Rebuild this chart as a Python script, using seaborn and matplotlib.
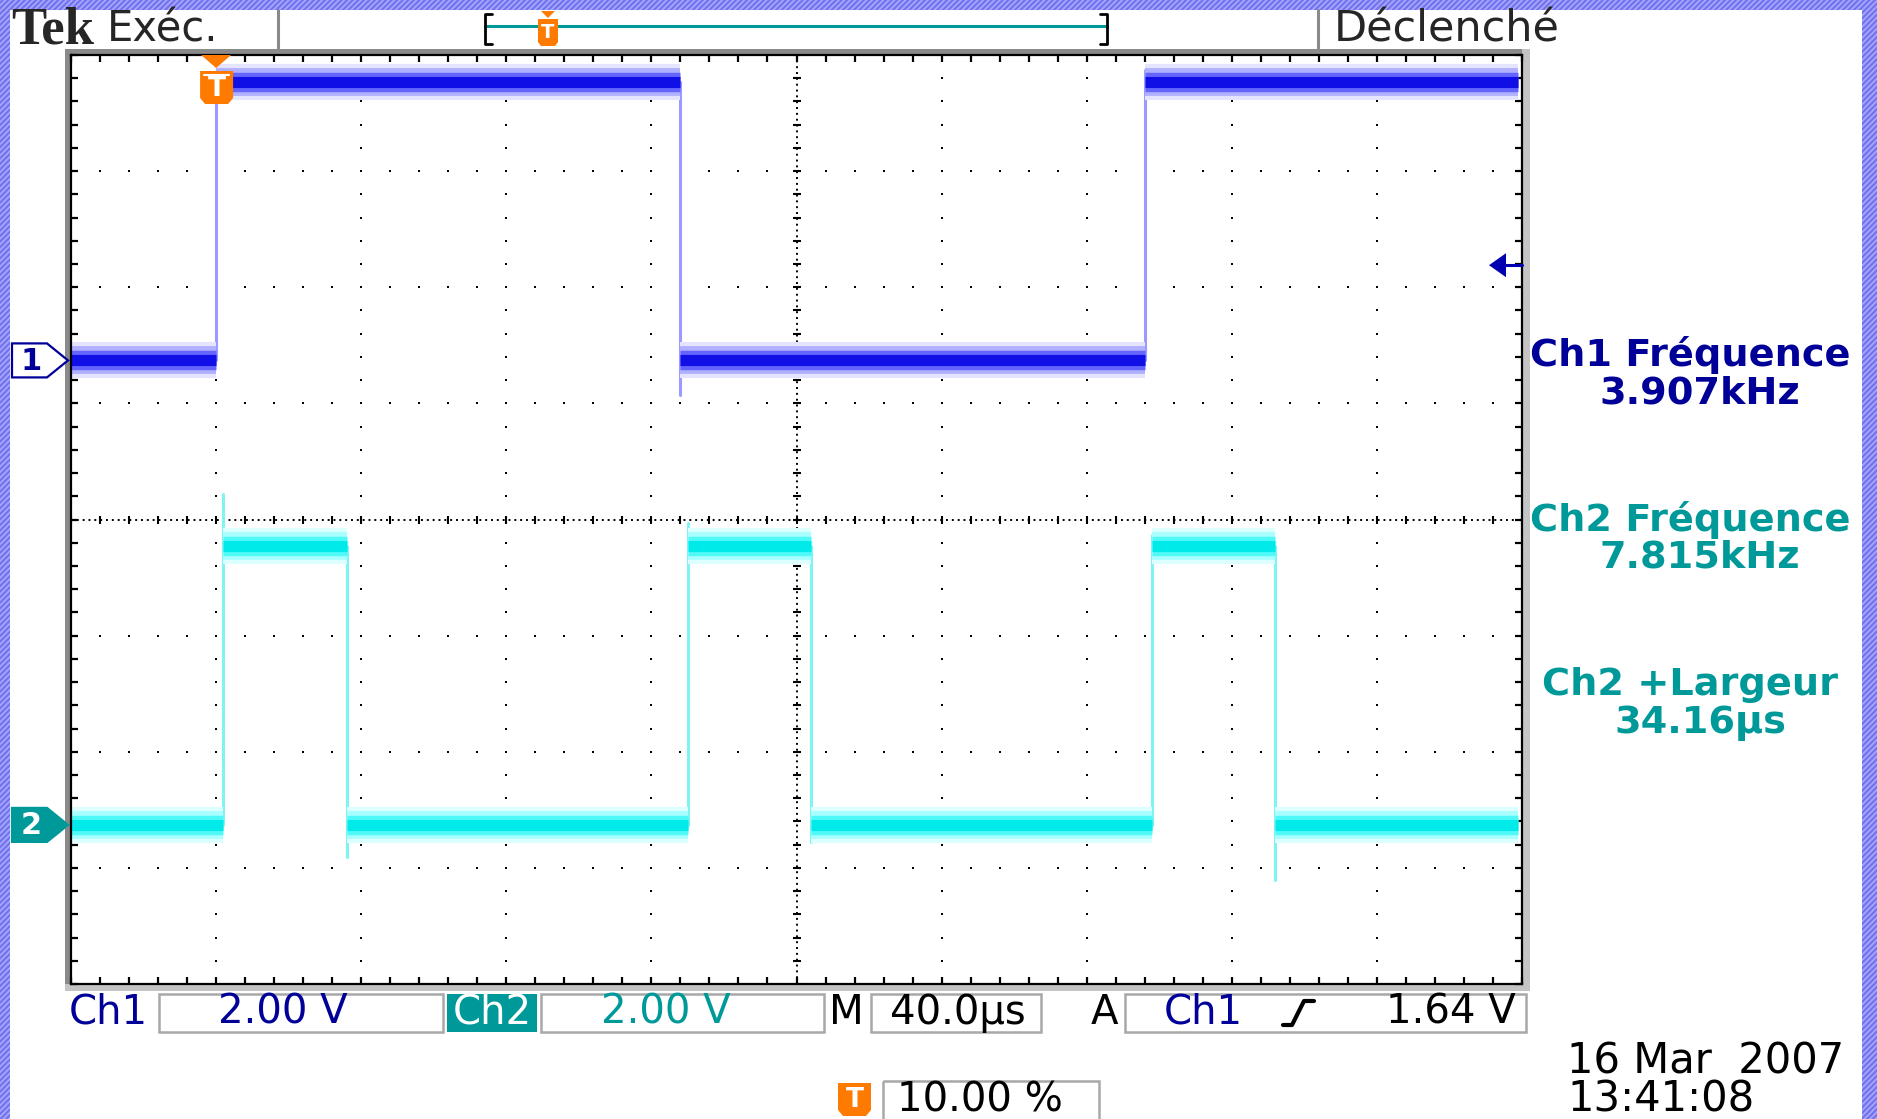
import numpy as np
import pandas as pd
import matplotlib
matplotlib.use("Agg")
import matplotlib.pyplot as plt
import seaborn as sns
from matplotlib.patches import Rectangle, Polygon
from matplotlib.lines import Line2D
from matplotlib.transforms import Affine2D

# values
t_div_us = 40.0            # M 40.0us
v_div = 2.0                # 2.00 V/div, both channels
n_hdiv, n_vdiv = 10, 8

ch1_offset_div = 1.37
ch1_low_v, ch1_high_v = 0.0, 4.8
ch1_edges_us = [40, 168, 296]            # rise, fall, rise
ch1_edge_lo_v = [0.0, -0.6, 0.0]
ch1_edge_hi_v = [4.8, 4.8, 5.0]

ch2_offset_div = -2.63
ch2_low_v, ch2_high_v = 0.0, 4.8
ch2_edges_us = [42, 76, 170, 204, 298, 332]
ch2_edge_lo_v = [0.0, -0.55, 0.0, -0.3, 0.0, -0.95]
ch2_edge_hi_v = [5.7, 4.8, 5.2, 4.8, 5.0, 4.8]

trace_end_us = 399
trig_pos_us = 40
trig_level_v = 1.64

meas_titles = ["Ch1 Fréquence", "Ch2 Fréquence", "Ch2 +Largeur"]
meas_values = ["3.907kHz", "7.815kHz", "34.16µs"]
meas_colors = ["#000099", "#009999", "#009999"]

CH1_DARK = "#000099"
CH2_DARK = "#009999"
ORANGE = "#ff7a00"

W, H = 1877, 1119
AX_L, AX_T, AX_R, AX_B = 71, 55, 1522, 984


def xpx(t):
    return AX_L + t / (n_hdiv * t_div_us) * (AX_R - AX_L)


def ypx(d):
    return AX_T + (n_vdiv / 2 - d) / n_vdiv * (AX_B - AX_T)


def step_frame(edges, lo, hi, end, offset):
    bounds = [0.0] + list(edges) + [end]
    rows = []
    for k in range(len(bounds) - 1):
        lvl = lo if k % 2 == 0 else hi
        for t in (bounds[k], bounds[k + 1]):
            rows.append({"t": t, "y": offset + lvl / v_div, "seg": k})
    return pd.DataFrame(rows)


def edge_frame(edges, lows, highs, offset):
    rows = []
    for k, (t, a, b) in enumerate(zip(edges, lows, highs)):
        rows.append({"t": t, "y": offset + a / v_div, "seg": k})
        rows.append({"t": t, "y": offset + b / v_div, "seg": k})
    return pd.DataFrame(rows)


sns.set_style("white")
plt.rcParams["font.family"] = ["DejaVu Sans"]
plt.rcParams["hatch.linewidth"] = 1.2

fig = plt.figure(figsize=(W / 100, H / 100), dpi=100)
PX = Affine2D().scale(1 / W, -1 / H).translate(0, 1) + fig.transFigure

# purple hatched background + white panel
fig.add_artist(Rectangle((0, 0), W, H, transform=PX, facecolor="#7373ee",
                         edgecolor="#a9a9ff", hatch="//////", lw=0, zorder=-10))
fig.add_artist(Rectangle((10, 10), 1852, H, transform=PX, facecolor="white",
                         lw=0, zorder=-9))
# graticule frame
fig.add_artist(Rectangle((65, 49), 1465, 942, transform=PX, facecolor="#c4c4c4",
                         lw=0, zorder=-8))
fig.add_artist(Rectangle((65, 49), 1457, 935, transform=PX, facecolor="#8a8a8a",
                         lw=0, zorder=-7))

ax = fig.add_axes([AX_L / W, 1 - AX_B / H, (AX_R - AX_L) / W, (AX_B - AX_T) / H])
ax.set_facecolor("white")

# graticule
sub_t = np.arange(0, n_hdiv * t_div_us + 0.1, t_div_us / 5)
sub_y = np.arange(-n_vdiv / 2, n_vdiv / 2 + 0.01, 0.2)
gx, gy = [], []
for i in range(1, n_hdiv):
    if i == n_hdiv // 2:
        continue
    gx += [i * t_div_us] * (len(sub_y) - 2)
    gy += list(sub_y[1:-1])
for j in range(-n_vdiv // 2 + 1, n_vdiv // 2):
    if j == 0:
        continue
    gx += list(sub_t[1:-1])
    gy += [j] * (len(sub_t) - 2)
ax.scatter(gx, gy, marker="s", s=3.2, c="k", linewidths=0, zorder=1)

mid_t = n_hdiv * t_div_us / 2
ax.axhline(0, color="k", lw=1.4, ls=(0, (1, 2)), zorder=1)
ax.axvline(mid_t, color="k", lw=1.4, ls=(0, (1, 2)), zorder=1)
ax.scatter(sub_t, np.zeros_like(sub_t), marker="|", s=40, c="k", linewidths=1.5, zorder=1)
ax.scatter(np.full_like(sub_y, mid_t), sub_y, marker="_", s=40, c="k", linewidths=1.5, zorder=1)

# traces: a dark core with lighter halos for the noise band
channels = [
    (step_frame(ch1_edges_us, ch1_low_v, ch1_high_v, trace_end_us, ch1_offset_div),
     edge_frame(ch1_edges_us, ch1_edge_lo_v, ch1_edge_hi_v, ch1_offset_div),
     "#9a9aff", ["#e4e4ff", "#b0b0ff", "#6464ff", "#1010e6"]),
    (step_frame(ch2_edges_us, ch2_low_v, ch2_high_v, trace_end_us, ch2_offset_div),
     edge_frame(ch2_edges_us, ch2_edge_lo_v, ch2_edge_hi_v, ch2_offset_div),
     "#80f4f4", ["#dcffff", "#a8ffff", "#50f8f8", "#00eaea"]),
]
for lvl, edg, ecol, bands in channels:
    sns.lineplot(data=edg, x="t", y="y", units="seg", estimator=None, sort=False,
                 color=ecol, lw=2.2, legend=False, ax=ax)
    for col, w in zip(bands, (26, 20, 14, 8)):
        sns.lineplot(data=lvl, x="t", y="y", units="seg", estimator=None, sort=False,
                     color=col, lw=w, solid_capstyle="butt", legend=False, ax=ax)

ax.set_xlim(0, n_hdiv * t_div_us)
ax.set_ylim(-n_vdiv / 2, n_vdiv / 2)
ax.set(xlabel="", ylabel="")
ax.set_xticks(np.arange(0, n_hdiv * t_div_us + 1, t_div_us))
ax.set_xticks(sub_t, minor=True)
ax.set_yticks(np.arange(-n_vdiv / 2, n_vdiv / 2 + 1, 1))
ax.set_yticks(sub_y, minor=True)
ax.tick_params(which="both", direction="in", top=True, right=True, bottom=True, left=True,
               length=5, width=1.6, color="k", labelbottom=False, labelleft=False)
for s in ax.spines.values():
    s.set_linestyle((0, (1, 1)))
    s.set_linewidth(1.6)
    s.set_color("k")

# trigger level arrow (right edge)
ty = ypx(ch1_offset_div + trig_level_v / v_div)
fig.add_artist(Polygon([(1489, ty), (1506, ty - 12), (1506, ty + 12)], closed=True,
                       transform=PX, facecolor="#0000b0", lw=0, zorder=5))
fig.add_artist(Line2D([1504, 1522], [ty, ty], transform=PX, color="#0000b0", lw=2.2, zorder=5))

# trigger position marker on graticule
tx = xpx(trig_pos_us)
fig.add_artist(Polygon([(tx - 15, 55), (tx + 15, 55), (tx, 68)], transform=PX,
                       facecolor=ORANGE, lw=0, zorder=5))
fig.add_artist(Polygon([(tx - 16, 71), (tx + 17, 71), (tx + 17, 98), (tx + 12, 104),
                        (tx - 11, 104), (tx - 16, 98)], transform=PX,
                       facecolor=ORANGE, lw=0, zorder=5))
fig.add_artist(Line2D([tx - 12, tx + 13], [75, 75], transform=PX, color="white", lw=1.5, zorder=6))
fig.text(tx + 0.5, 89, "T", transform=PX, color="white", fontsize=19, fontweight="bold",
         ha="center", va="center", zorder=6)

# channel ground markers
for off, label, filled, col in [(ch1_offset_div, "1", False, CH1_DARK),
                                (ch2_offset_div, "2", True, CH2_DARK)]:
    y0 = ypx(off)
    pts = [(12, y0 - 17), (47, y0 - 17), (68, y0), (47, y0 + 17), (12, y0 + 17)]
    fig.add_artist(Polygon(pts, closed=True, transform=PX,
                           facecolor=col if filled else "white", edgecolor=col, lw=1.6, zorder=5))
    fig.text(31, y0 + 1, label, transform=PX, color="white" if filled else col,
             fontsize=22, fontweight="bold", ha="center", va="center", zorder=6)

# header
fig.text(11, 44, "Tek", transform=PX, family="Liberation Serif", fontweight="bold",
         fontsize=38, va="baseline")
fig.text(107, 42, "Exéc.", transform=PX, fontsize=30, va="baseline")
fig.text(1334, 41, "Déclenché", transform=PX, fontsize=31, va="baseline")
for xd in (278, 1318):
    fig.add_artist(Line2D([xd, xd], [10, 50], transform=PX, color="#8a8a8a", lw=2.2))
fig.add_artist(Line2D([485, 1107], [26, 26], transform=PX, color=CH2_DARK, lw=2.2))
fig.add_artist(Line2D([492, 485, 485, 492], [14, 14, 44, 44], transform=PX, color="k", lw=2))
fig.add_artist(Line2D([1100, 1107, 1107, 1100], [14, 14, 44, 44], transform=PX, color="k", lw=2))
hx = 548
fig.add_artist(Polygon([(hx - 7, 11), (hx + 7, 11), (hx, 18)], transform=PX,
                       facecolor=ORANGE, lw=0, zorder=5))
fig.add_artist(Polygon([(hx - 10, 19), (hx + 10, 19), (hx + 10, 42), (hx + 7, 46),
                        (hx - 7, 46), (hx - 10, 42)], transform=PX, facecolor=ORANGE, lw=0, zorder=5))
fig.text(hx, 33, "T", transform=PX, color="white", fontsize=14, fontweight="bold",
         ha="center", va="center", zorder=6)

# measurements on the right
for k, (ttl, val, col) in enumerate(zip(meas_titles, meas_values, meas_colors)):
    yc = [355, 520, 685][k]
    fig.text(1690, yc, ttl, transform=PX, color=col, fontsize=27.5, fontweight="bold",
             ha="center", va="center")
    fig.text(1700, yc + 38, val, transform=PX, color=col, fontsize=27.5, fontweight="bold",
             ha="center", va="center")

# bottom status bar
BOX = "#a8a8a8"
for x0, x1 in [(159, 443), (541, 824), (871, 1041), (1125, 1526)]:
    fig.add_artist(Rectangle((x0, 994), x1 - x0, 38, transform=PX, facecolor="none",
                             edgecolor=BOX, lw=1.8))
fig.add_artist(Rectangle((447, 994), 90, 38, transform=PX, facecolor=CH2_DARK, lw=0))
yb = 1013
fs = 29
fig.text(108, yb, "Ch1", transform=PX, color=CH1_DARK, fontsize=fs, ha="center", va="center")
fig.text(283, yb, f"{v_div:.2f} V", transform=PX, color=CH1_DARK, fontsize=fs, ha="center", va="center")
fig.text(492, yb, "Ch2", transform=PX, color="white", fontsize=fs, ha="center", va="center")
fig.text(666, yb, f"{v_div:.2f} V", transform=PX, color=CH2_DARK, fontsize=fs, ha="center", va="center")
fig.text(846, yb, "M", transform=PX, color="k", fontsize=fs, ha="center", va="center")
fig.text(958, yb, f"{t_div_us:.1f}µs", transform=PX, color="k", fontsize=fs, ha="center", va="center")
fig.text(1104, yb, "A", transform=PX, color="k", fontsize=fs, ha="center", va="center")
fig.text(1203, yb, "Ch1", transform=PX, color=CH1_DARK, fontsize=fs, ha="center", va="center")
fig.add_artist(Line2D([1283, 1292, 1304, 1314], [1025, 1025, 1001, 1001], transform=PX,
                      color="k", lw=3))
fig.text(1451, yb, f"{trig_level_v:.2f} V", transform=PX, color="k", fontsize=fs,
         ha="center", va="center")

# trigger position readout and date
fig.add_artist(Polygon([(838, 1083), (871, 1083), (871, 1110), (866, 1116), (843, 1116),
                        (838, 1110)], transform=PX, facecolor=ORANGE, lw=0))
fig.text(854.5, 1100, "T", transform=PX, color="white", fontsize=19, fontweight="bold",
         ha="center", va="center")
fig.add_artist(Rectangle((883, 1081), 216, 40, transform=PX, facecolor="none",
                         edgecolor=BOX, lw=1.8))
fig.text(980, 1100, "10.00 %", transform=PX, color="k", fontsize=fs, ha="center", va="center")
fig.text(1567, 1062, "16 Mar  2007", transform=PX, color="k", fontsize=30, va="center")
fig.text(1567, 1100, "13:41:08", transform=PX, color="k", fontsize=30, va="center")

fig.savefig("out.png", dpi=100)
